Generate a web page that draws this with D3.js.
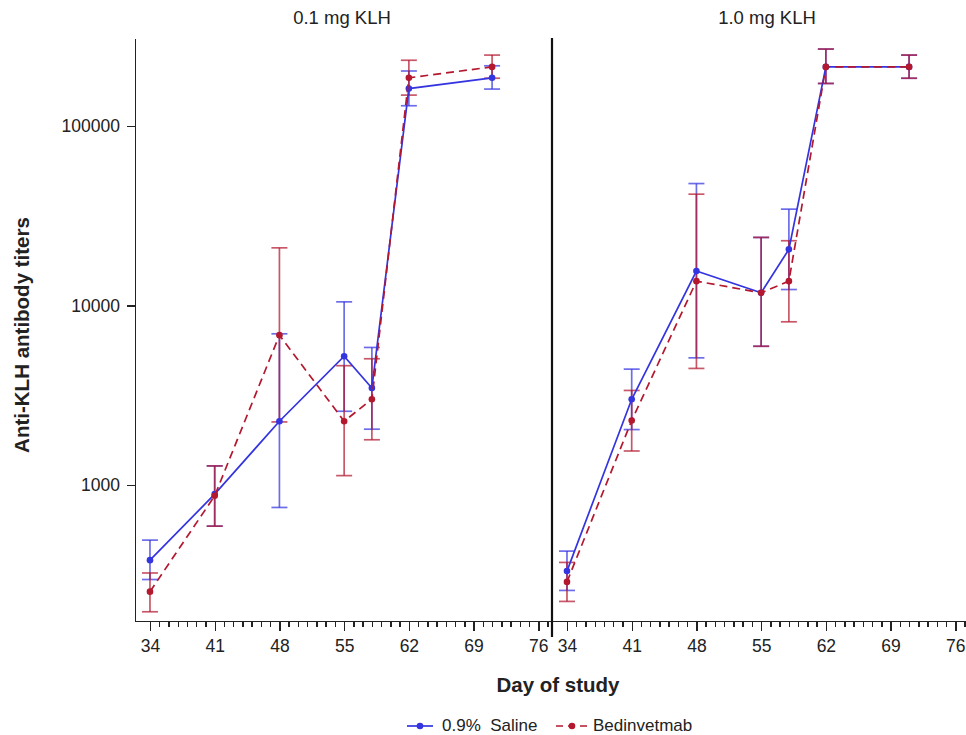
<!DOCTYPE html>
<html>
<head>
<meta charset="utf-8">
<title>Anti-KLH antibody titers</title>
<script src="https://cdn.jsdelivr.net/npm/d3@7/dist/d3.min.js"></script>
<style>
  body { margin: 0; background: #fff; }
  svg text { font-family: "Liberation Sans", Arial, sans-serif; fill: #222; }
  .axis path, .axis line { stroke: #222; stroke-width: 1.4px; shape-rendering: crispEdges; }
  .axis text { font-size: 17.5px; }
</style>
</head>
<body>
<div id="chart"></div>
<script>
// day of study for every point
const days = [34, 41, 48, 55, 58, 62, 71];
const panels = ["0.1 mg KLH", "1.0 mg KLH"];
const groups = ["0.9%  Saline", "Bedinvetmab"];

// 0.1 mg KLH
const saline01   = [382, 891, 2270, 5230, 3480, 162000, 186000];
const saline01Lo = [298, 591, 751, 2580, 2050, 130000, 161000];
const saline01Hi = [494, 1280, 6970, 10500, 5850, 203000, 217000];
const bedin01    = [255, 872, 6850, 2270, 3010, 186000, 214000];
const bedin01Lo  = [197, 591, 2250, 1130, 1790, 149000, 185000];
const bedin01Hi  = [324, 1280, 21000, 4630, 5060, 233000, 249000];

// 1.0 mg KLH
const saline10   = [332, 3010, 15600, 11800, 20600, 214000, 214000];
const saline10Lo = [259, 2040, 5120, 5940, 12300, 173000, 185000];
const saline10Hi = [429, 4430, 47900, 24000, 34500, 269000, 249000];
const bedin10    = [289, 2290, 13700, 11800, 13700, 214000, 214000];
const bedin10Lo  = [225, 1550, 4470, 5940, 8130, 173000, 185000];
const bedin10Hi  = [371, 3370, 41800, 24000, 23000, 269000, 249000];

const yTicks = [1000, 10000, 100000];
const xTicks = [34, 41, 48, 55, 62, 69, 76];
const xMinor = d3.range(34, 78);

const colors = ["#3434e0", "#b3182f"];

const width = 966, height = 735;
const plotTop = 38, plotBottom = 621;
const panelX = [135, 552];
const pxPerDay = 9.246;
const dayStart = 32.38;

const svg = d3.select('#chart').append('svg')
  .attr('width', width)
  .attr('height', height);

const y = d3.scaleLog()
  .domain([175, 310000])
  .range([plotBottom, plotTop]);

function series(vals, lo, hi) {
  return days.map((d, i) => ({ day: d, v: vals[i], lo: lo[i], hi: hi[i] }));
}

const panelData = [
  [series(saline01, saline01Lo, saline01Hi), series(bedin01, bedin01Lo, bedin01Hi)],
  [series(saline10, saline10Lo, saline10Hi), series(bedin10, bedin10Lo, bedin10Hi)]
];

const titleX = [342, 767];

panels.forEach((name, p) => {
  const x0 = panelX[p];
  const x1 = p === 0 ? panelX[1] : width + 20;
  const x = d3.scaleLinear()
    .domain([dayStart, dayStart + (x1 - x0) / pxPerDay])
    .range([x0, x1]);

  // minor ticks
  svg.append('g')
    .attr('class', 'axis')
    .attr('transform', `translate(0,${plotBottom})`)
    .call(d3.axisBottom(x).tickValues(xMinor).tickSize(6).tickSizeOuter(0).tickFormat(''));

  // major ticks
  svg.append('g')
    .attr('class', 'axis')
    .attr('transform', `translate(0,${plotBottom})`)
    .call(d3.axisBottom(x).tickValues(xTicks).tickSize(10).tickSizeOuter(0).tickPadding(9));

  svg.append('text')
    .attr('x', titleX[p])
    .attr('y', 24)
    .attr('text-anchor', 'middle')
    .attr('font-size', 18.5)
    .text(name);

  const g = svg.append('g');

  // error bars first
  panelData[p].forEach((data, s) => {
    const eb = g.append('g')
      .attr('stroke', colors[s])
      .attr('stroke-width', 1.7)
      .attr('stroke-opacity', 0.72);
    eb.selectAll('line.v').data(data).join('line')
      .attr('class', 'v')
      .attr('x1', d => x(d.day)).attr('x2', d => x(d.day))
      .attr('y1', d => y(d.lo)).attr('y2', d => y(d.hi));
    eb.selectAll('line.lo').data(data).join('line')
      .attr('class', 'lo')
      .attr('x1', d => x(d.day) - 8).attr('x2', d => x(d.day) + 8)
      .attr('y1', d => y(d.lo)).attr('y2', d => y(d.lo));
    eb.selectAll('line.hi').data(data).join('line')
      .attr('class', 'hi')
      .attr('x1', d => x(d.day) - 8).attr('x2', d => x(d.day) + 8)
      .attr('y1', d => y(d.hi)).attr('y2', d => y(d.hi));
  });

  const line = d3.line()
    .x(d => x(d.day))
    .y(d => y(d.v));

  panelData[p].forEach((data, s) => {
    g.append('path')
      .datum(data)
      .attr('fill', 'none')
      .attr('stroke', colors[s])
      .attr('stroke-width', 1.7)
      .attr('stroke-dasharray', s === 1 ? '8,5' : null)
      .attr('d', line);
    g.selectAll(null).data(data).join('circle')
      .attr('cx', d => x(d.day))
      .attr('cy', d => y(d.v))
      .attr('r', 3.3)
      .attr('fill', colors[s]);
  });
});

// y axis on the left panel
svg.append('g')
  .attr('class', 'axis')
  .attr('transform', `translate(${panelX[0]},0)`)
  .call(d3.axisLeft(y).tickValues(yTicks).tickSize(8).tickSizeOuter(0).tickPadding(7).tickFormat(d3.format('d')));

// separator between panels
svg.append('line')
  .attr('x1', panelX[1]).attr('x2', panelX[1])
  .attr('y1', plotTop).attr('y2', 637)
  .attr('stroke', '#111')
  .attr('stroke-width', 2.2);

svg.append('text')
  .attr('transform', 'translate(29,335) rotate(-90)')
  .attr('text-anchor', 'middle')
  .attr('font-size', 20.5)
  .attr('font-weight', 'bold')
  .text('Anti-KLH antibody titers');

svg.append('text')
  .attr('x', 558)
  .attr('y', 692)
  .attr('text-anchor', 'middle')
  .attr('font-size', 20.5)
  .attr('font-weight', 'bold')
  .text('Day of study');

// legend
const legendX = [407, 556];
groups.forEach((name, s) => {
  const lg = svg.append('g').attr('transform', `translate(${legendX[s]},726)`);
  lg.append('line')
    .attr('x1', 0).attr('x2', s === 0 ? 26 : 32)
    .attr('stroke', colors[s])
    .attr('stroke-width', 1.7)
    .attr('stroke-dasharray', s === 1 ? '7,5' : null);
  lg.append('circle')
    .attr('cx', s === 0 ? 13 : 16)
    .attr('r', 3.3)
    .attr('fill', colors[s]);
  lg.append('text')
    .attr('x', s === 0 ? 35 : 37)
    .attr('y', 5)
    .attr('font-size', 17)
    .attr('xml:space', 'preserve')
    .style('white-space', 'pre')
    .text(name);
});
</script>
</body>
</html>
